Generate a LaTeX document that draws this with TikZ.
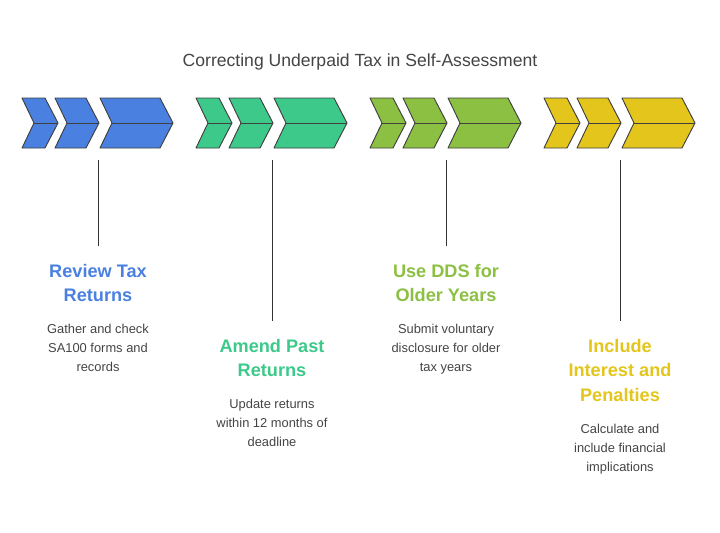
\documentclass[tikz,border=0pt]{standalone}
\usepackage{fontspec}
\setmainfont{Liberation Sans}
\usetikzlibrary{positioning}
\definecolor{cblue}{HTML}{4A80E0}
\definecolor{cgreen}{HTML}{3CC98A}
\definecolor{colive}{HTML}{8CC043}
\definecolor{cyellow}{HTML}{E3C51C}
\definecolor{ctext}{HTML}{444444}
\tikzset{
  chev/.style={draw=black!75, thick, line join=round},
  stem/.style={draw=black!80, thick, shorten >=12pt},
  head/.style={font=\fontsize{15.5}{21}\selectfont\bfseries, align=center, anchor=north},
  desc/.style={font=\fontsize{11}{16.2}\selectfont, text=ctext, align=center, anchor=north, below=12pt of #1},
}
\begin{document}
\begin{tikzpicture}[x=0.03cm, y=-0.03cm]
    \useasboundingbox (0,0) rectangle (720,533);
    \node[font=\fontsize{15}{18}\selectfont, text=ctext] (title) at (360,62) {Correcting Underpaid Tax in Self-Assessment};

    % chevron groups
    \foreach \c/\dx in {cblue/0, cgreen/174, colive/348, cyellow/522} {
        \foreach \l/\r in {22/45, 55/86, 100/160} {
            \filldraw[chev, fill=\c] (\l+\dx,98) -- (\r+\dx,98) -- (\r+\dx+13,123) -- (\r+\dx,148)
                -- (\l+\dx,148) -- (\l+\dx+12,123) -- cycle;
            \draw[chev] (\l+\dx+12,123) -- (\r+\dx+13,123);
        }
    }

    % steps
    \coordinate (t1) at (98,160);
    \coordinate (t2) at (272,160);
    \coordinate (t3) at (446,160);
    \coordinate (t4) at (620,160);
    \node[head, text=cblue] (h1) at (98,260) {Review Tax\\Returns};
    \node[head, text=cgreen] (h2) at (272,335) {Amend Past\\Returns};
    \node[head, text=colive] (h3) at (446,260) {Use DDS for\\Older Years};
    \node[head, text=cyellow] (h4) at (620,335) {Include\\Interest and\\Penalties};
    \draw[stem] (t1) -- (h1.north);
    \draw[stem] (t2) -- (h2.north);
    \draw[stem] (t3) -- (h3.north);
    \draw[stem] (t4) -- (h4.north);

    \node[desc=h1] (d1) {Gather and check\\SA100 forms and\\records};
    \node[desc=h2] (d2) {Update returns\\within 12 months of\\deadline};
    \node[desc=h3] (d3) {Submit voluntary\\disclosure for older\\tax years};
    \node[desc=h4] (d4) {Calculate and\\include financial\\implications};
\end{tikzpicture}
\end{document}
